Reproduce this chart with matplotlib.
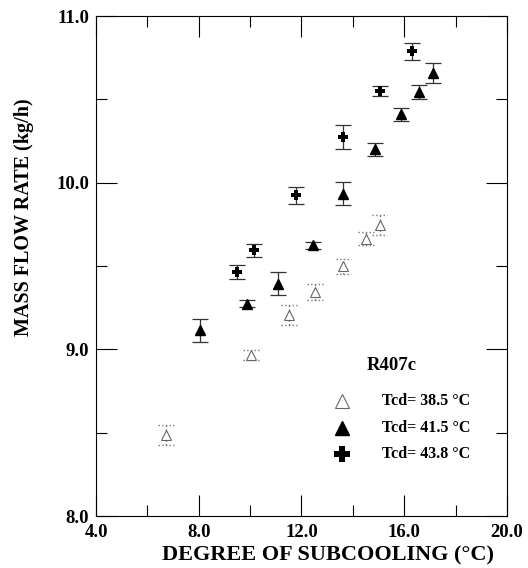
import matplotlib.pyplot as plt
from matplotlib.ticker import MultipleLocator, FormatStrFormatter

plt.rcParams['font.family'] = ['Liberation Serif', 'DejaVu Serif']
plt.rcParams['font.weight'] = 'bold'
plt.rcParams['axes.labelweight'] = 'bold'

# Tcd = 38.5 C (open triangles)
x_385 = [6.72, 10.03, 11.51, 12.52, 13.63, 14.51, 15.05]
y_385 = [8.485, 8.965, 9.205, 9.345, 9.50, 9.665, 9.745]
e_385 = [0.06, 0.03, 0.06, 0.05, 0.045, 0.04, 0.06]

# Tcd = 41.5 C (filled triangles)
x_415 = [8.05, 9.89, 11.07, 12.43, 13.63, 14.86, 15.86, 16.59, 17.13]
y_415 = [9.115, 9.275, 9.395, 9.625, 9.935, 10.20, 10.41, 10.545, 10.66]
e_415 = [0.07, 0.02, 0.07, 0.02, 0.07, 0.04, 0.04, 0.04, 0.06]

# Tcd = 43.8 C (plus)
x_438 = [9.50, 10.14, 11.77, 13.63, 15.05, 16.31]
y_438 = [9.465, 9.595, 9.925, 10.275, 10.55, 10.79]
e_438 = [0.04, 0.04, 0.05, 0.07, 0.03, 0.05]

labels = ['Tcd= 38.5 °C', 'Tcd= 41.5 °C', 'Tcd= 43.8 °C']

fig = plt.figure(figsize=(5.28, 5.68), dpi=100)
ax = fig.add_axes([0.182, 0.0915, 0.778, 0.880])

# open triangles with dotted error bars
cap = 0.3
lo = [y - e for y, e in zip(y_385, e_385)]
hi = [y + e for y, e in zip(y_385, e_385)]
ax.vlines(x_385, lo, hi, colors='#777777', linestyles=':', linewidth=1.0)
ax.hlines(lo, [x - cap for x in x_385], [x + cap for x in x_385],
          colors='#777777', linestyles=':', linewidth=1.0)
ax.hlines(hi, [x - cap for x in x_385], [x + cap for x in x_385],
          colors='#777777', linestyles=':', linewidth=1.0)
ax.plot(x_385, y_385, '^', mfc='white', mec='#666666', ms=7, mew=0.8,
        linestyle='none')

ax.errorbar(x_415, y_415, yerr=e_415, fmt='^', color='black', ms=7.5,
            ecolor='#333333', elinewidth=0.9, capsize=5.8, capthick=0.9)
pl = ax.errorbar(x_438, y_438, yerr=e_438, fmt='P', color='black', ms=7,
                 ecolor='#333333', elinewidth=0.9, capsize=5.8, capthick=0.9)
pl[0].set_markeredgewidth(0)

ax.set_xlim(4, 20)
ax.set_ylim(8, 11)
ax.xaxis.set_major_locator(MultipleLocator(4))
ax.xaxis.set_minor_locator(MultipleLocator(2))
ax.yaxis.set_major_locator(MultipleLocator(1))
ax.yaxis.set_minor_locator(MultipleLocator(0.5))
ax.xaxis.set_major_formatter(FormatStrFormatter('%.1f'))
ax.yaxis.set_major_formatter(FormatStrFormatter('%.1f'))
ax.tick_params(which='both', direction='in', top=True, right=True,
               labelsize=13.5, width=0.8)
ax.tick_params(which='major', length=15)
ax.tick_params(axis='x', which='major', pad=6)
ax.tick_params(axis='y', which='major', pad=5)
ax.tick_params(which='minor', length=8)
for t in ax.get_xticklabels() + ax.get_yticklabels():
    t.set_fontweight('bold')
for s in ax.spines.values():
    s.set_linewidth(0.8)

ax.set_xlabel('DEGREE OF SUBCOOLING (°C)', fontsize=16, fontweight='bold')
ax.set_ylabel('MASS FLOW RATE (kg/h)', fontsize=14.5, fontweight='bold')
ax.xaxis.set_label_coords(0.565, -0.058)
ax.yaxis.set_label_coords(-0.152, 0.598)

# legend
ax.text(15.52, 8.906, 'R407c', fontsize=13.5, ha='center', va='center')
leg_x = 13.58
leg_y = [8.69, 8.53, 8.37]
ax.plot(leg_x, leg_y[0], '^', mfc='white', mec='#666666', ms=10, mew=0.8)
ax.plot(leg_x, leg_y[1], '^', color='black', ms=10)
ax.plot(leg_x, leg_y[2], 'P', color='black', ms=11, mew=0)
for yy, lab in zip(leg_y, labels):
    ax.text(15.13, yy, lab, fontsize=11.5, ha='left', va='center')

fig.savefig('out.png', dpi=100)
